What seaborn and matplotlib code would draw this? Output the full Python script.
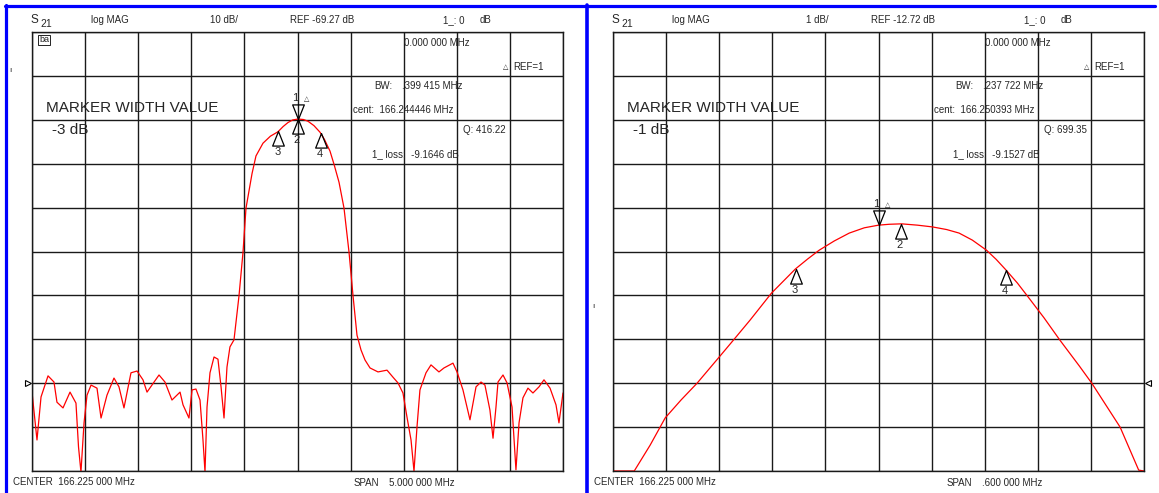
import numpy as np
import matplotlib
matplotlib.use("Agg")
import matplotlib.pyplot as plt
from matplotlib.path import Path
from matplotlib.lines import Line2D
import pandas as pd
import seaborn as sns

# ---- data read off the two network analyser screens ----
# left screen: S21 log MAG, 10 dB/div, REF -69.27 dB, span 5 MHz
left_freq = [163.725, 163.772, 163.810, 163.876, 163.932, 163.960, 164.017, 164.083,
             164.139, 164.163, 164.186, 164.215, 164.243, 164.281, 164.337, 164.375,
             164.431, 164.497, 164.544, 164.591, 164.657, 164.714, 164.770, 164.808,
             164.921, 164.977, 165.043, 165.119, 165.147, 165.203, 165.232, 165.269,
             165.307, 165.335, 165.354, 165.373, 165.401, 165.439, 165.476, 165.505,
             165.533, 165.561, 165.589, 165.627, 165.674, 165.712, 165.740, 165.797,
             165.834, 165.900, 165.970, 166.041, 166.090, 166.135, 166.180, 166.230,
             166.280, 166.324, 166.380, 166.437, 166.480, 166.531, 166.570, 166.616,
             166.663, 166.710, 166.748, 166.785, 166.823, 166.861, 166.908,
             166.983, 167.068, 167.124, 167.171, 167.218, 167.256, 167.294, 167.322,
             167.350, 167.378, 167.435, 167.482, 167.557, 167.604, 167.689, 167.727,
             167.783, 167.849, 167.906, 167.953, 167.990, 168.037, 168.066, 168.094,
             168.113, 168.160, 168.198, 168.245, 168.282, 168.311, 168.348, 168.395,
             168.442, 168.499, 168.546, 168.603, 168.659, 168.687, 168.725]
left_db = [-71.3, -82.2, -72.4, -67.6, -69.0, -73.6, -74.9, -71.3,
           -73.8, -83.8, -89.5, -78.3, -72.0, -69.7, -70.4, -77.2,
           -72.0, -68.1, -70.1, -74.9, -66.9, -66.5, -68.5, -71.3,
           -67.4, -69.0, -73.1, -71.3, -74.2, -77.2, -70.8, -70.6,
           -73.1, -82.2, -89.5, -74.7, -66.9, -63.3, -63.8, -70.1,
           -77.2, -65.6, -61.0, -59.4, -49.4, -39.4, -29.4, -21.5,
           -17.5, -14.6, -13.0, -12.0, -10.8, -9.9, -9.3, -9.1,
           -9.2, -9.6, -10.6, -12.1, -13.8, -16.4, -19.5, -23.5,
           -29.4, -39.4, -49.4, -58.3, -61.7, -64.0, -65.8,
           -66.7, -66.3, -67.9, -69.2, -71.5, -77.0, -82.2, -89.3,
           -79.3, -70.8, -66.9, -65.1, -66.7, -65.8, -64.7, -66.7,
           -70.8, -77.6, -70.1, -69.0, -69.7, -75.4, -81.8, -74.7,
           -69.0, -67.4, -69.2, -74.7, -89.0, -78.3, -72.6, -70.4,
           -71.5, -70.1, -68.5, -70.4, -74.2, -78.3, -71.5]

# right screen: S21 log MAG, 1 dB/div, REF -12.72 dB, span 0.6 MHz
right_freq = [165.925, 165.949, 165.967, 165.984, 166.002, 166.020, 166.046, 166.061,
              166.080, 166.104, 166.131, 166.145, 166.158, 166.175, 166.192, 166.209,
              166.225, 166.237, 166.251, 166.269, 166.286, 166.302, 166.316, 166.331,
              166.347, 166.358, 166.369, 166.382, 166.395, 166.412, 166.430, 166.452,
              166.466, 166.482, 166.498, 166.519, 166.525]
right_db = [-14.72, -14.72, -14.13, -13.51, -13.10, -12.72, -12.10, -11.74,
            -11.28, -10.67, -10.12, -9.89, -9.69, -9.48, -9.30, -9.18,
            -9.12, -9.10, -9.09, -9.12, -9.16, -9.22, -9.30, -9.46,
            -9.69, -9.90, -10.14, -10.44, -10.78, -11.23, -11.74, -12.33,
            -12.72, -13.22, -13.72, -14.70, -14.72]

# markers 1..4 (frequency, MHz)
left_markers = [166.225, 166.225, 166.0447, 166.4441]
right_markers = [166.225, 166.2504, 166.1315, 166.3693]

W, H = 1159, 493
sns.set_style("white")
plt.rcParams["font.family"] = ["Liberation Sans", "DejaVu Sans"]
fig = plt.figure(figsize=(W / 100, H / 100), dpi=100)


def ptext(x, y, s, size=7, **kw):
    # place text by pixel position measured from top-left corner
    fig.text(x / W, 1 - y / H, s, fontsize=size, va="center", ha="left", **kw)


up_tri = Path([(0, 0), (-0.4, -1), (0.4, -1), (0, 0)])   # apex on the trace, body below
down_tri = Path([(0, 0), (-0.4, 1), (0.4, 1), (0, 0)])   # apex on the trace, body above


def screen(x0, freq, db, center, span, ref, scale, markers, ref_side):
    ax = fig.add_axes([x0 / W, (H - 471) / H, 531 / W, 439 / H])
    df = pd.DataFrame({"f": freq, "db": db})
    sns.lineplot(data=df, x="f", y="db", ax=ax, color="red", lw=0.9,
                 estimator=None, sort=False)
    lo, hi = center - span / 2, center + span / 2
    ax.set_xlim(lo, hi)
    ax.set_ylim(ref - 2 * scale, ref + 8 * scale)
    ax.set_xticks(np.linspace(lo, hi, 11))
    ax.set_yticks(np.linspace(ref - 2 * scale, ref + 8 * scale, 11))
    ax.grid(True, color="#1a1a1a", lw=1)
    ax.tick_params(length=0, labelbottom=False, labelleft=False)
    ax.set_xlabel("")
    ax.set_ylabel("")
    for s in ax.spines.values():
        s.set_color("#1a1a1a")
        s.set_linewidth(1)

    # markers
    my = np.interp(markers, freq, db)
    kw = dict(ls="none", mfc="none", mec="black", mew=0.9, ms=21, clip_on=False)
    ax.plot(markers[0], my[0], marker=down_tri, **kw)
    ax.plot(markers[1:], my[1:], marker=up_tri, **kw)
    lab = dict(textcoords="offset pixels", ha="center", va="center", fontsize=8)
    ax.annotate("1", (markers[0], my[0]), xytext=(-2, 21), **lab)
    ax.annotate("\u25b3", (markers[0], my[0]), xytext=(9, 20), textcoords="offset pixels",
                ha="center", va="center", fontsize=5, family="DejaVu Sans")
    for i in range(1, 4):
        ax.annotate(str(i + 1), (markers[i], my[i]), xytext=(-1, -21), **lab)

    # reference position arrow
    if ref_side == "left":
        ax.plot([-0.008], [ref], marker=">", ms=4.5, mfc="white", mec="black", mew=0.8,
                transform=ax.get_yaxis_transform(), clip_on=False)
    else:
        ax.plot([1.008], [ref], marker="<", ms=4.5, mfc="white", mec="black", mew=0.8,
                transform=ax.get_yaxis_transform(), clip_on=False)
    return ax


screen(32, left_freq, left_db, 166.225, 5.0, -69.27, 10, left_markers, "left")
screen(613, right_freq, right_db, 166.225, 0.6, -12.72, 1, right_markers, "right")

# annotation text of each screen
panels = [
    (0, "10 dB/", "REF -69.27 dB", ".399 415 MHz", "cent:  166.244446 MHz", "Q: 416.22",
     "-3 dB", "1_ loss:  -9.1646 dB", "5.000 000 MHz"),
    (581, "1 dB/", "REF -12.72 dB", ".237 722 MHz", "cent:  166.250393 MHz", "Q: 699.35",
     "-1 dB", "1_ loss:  -9.1527 dB", ".600 000 MHz"),
]
for dx, per, reftxt, bw, cent, q, width, loss, span_v in panels:
    sx = 12 if dx else 0
    ptext(31 + dx, 20, "S", 8.5)
    ptext(40 + dx, 24, "21", 7.5)
    ptext(91 + dx, 20, "log MAG")
    ptext(210 + dx + (15 if dx else 0), 20, per)
    ptext(290 + dx, 20, reftxt)
    ptext(443 + dx, 20, "1_: 0")
    ptext(480 + dx, 20, "dB")
    ptext(404 + dx, 43, "0.000 000 MHz")
    ptext(503 + dx, 67, "\u25b3", 5, family="DejaVu Sans")
    ptext(513 + dx, 67, "REF=1")
    ptext(374 + dx, 86, "BW:")
    ptext(402 + dx, 86, bw)
    ptext(353 + dx, 110, cent)
    ptext(463 + dx, 130, q)
    ptext(372 + dx, 154, loss)
    ptext(46 + dx, 108, "MARKER WIDTH VALUE", 11)
    ptext(52 + dx, 130, width, 11)
    ptext(13 + dx, 482, "CENTER  166.225 000 MHz")
    ptext(354 + dx + sx, 483, "SPAN")
    ptext(389 + dx + sx, 483, span_v)

ptext(39, 40, "\u0183a", 6.5, bbox=dict(boxstyle="square,pad=0.1", fc="white", ec="black", lw=0.6))
ptext(9, 70, "\u0131", 6)
ptext(592, 306, "\u0131", 6)

# blue frame around the left screen
blue = "#0000ff"
fig.add_artist(Line2D([6 / W, 6 / W], [0, 1 - 5 / H], color=blue, lw=2.3))
fig.add_artist(Line2D([5 / W, 1155 / W], [1 - 6 / H, 1 - 6 / H], color=blue, lw=2.3))
fig.add_artist(Line2D([586.5 / W, 586.5 / W], [0, 1 - 5 / H], color=blue, lw=2.6))

fig.savefig("out.png", dpi=100)
